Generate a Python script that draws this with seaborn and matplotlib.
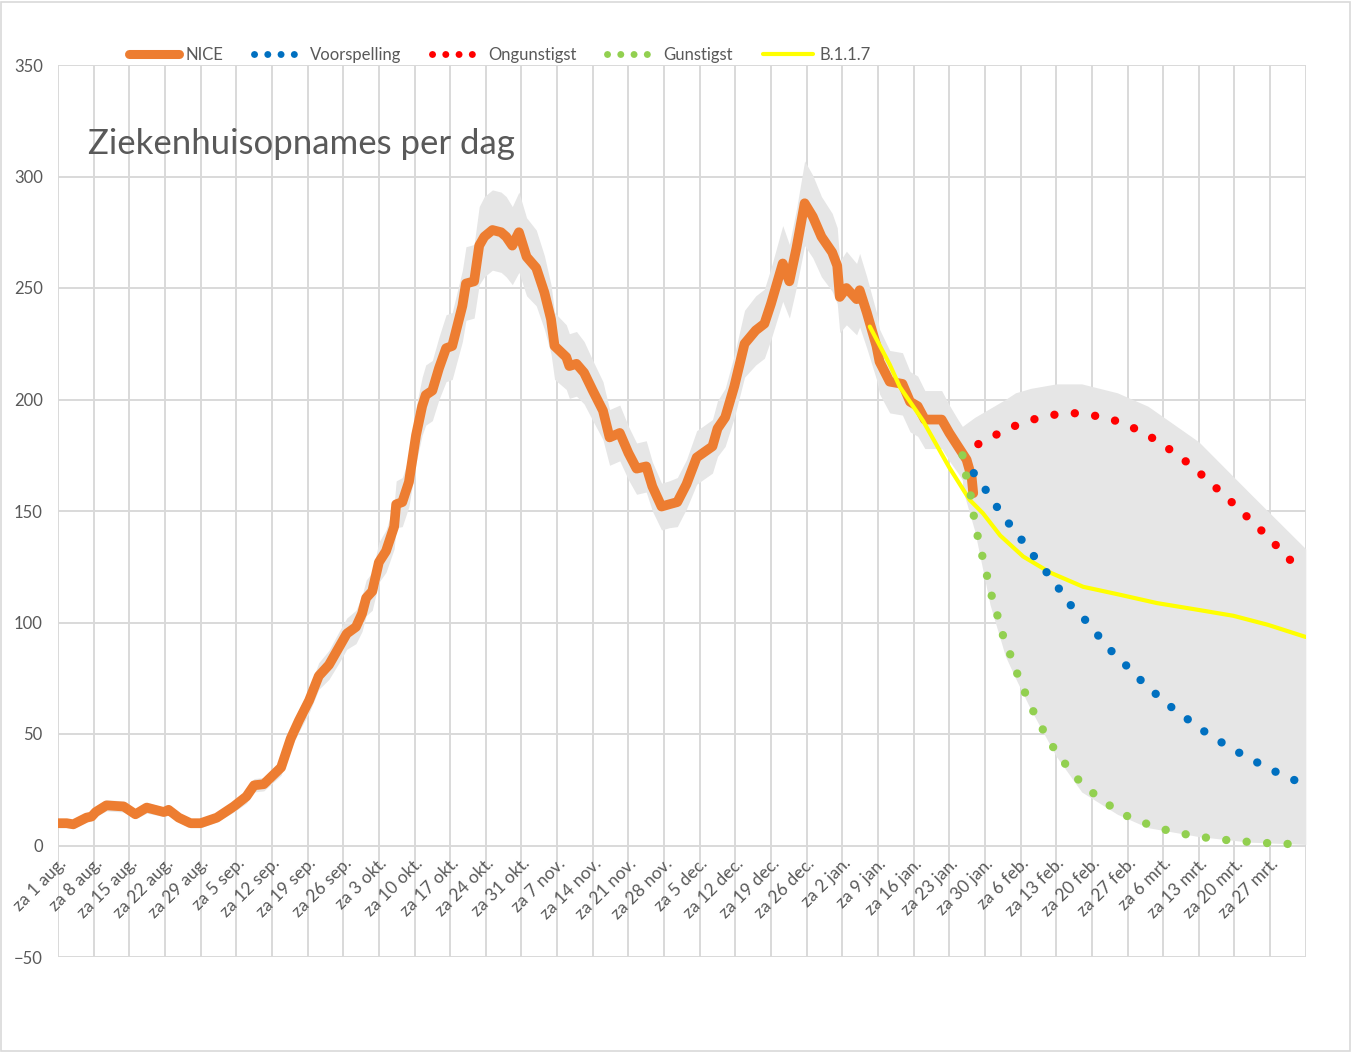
import matplotlib
matplotlib.use("Agg")
import matplotlib.pyplot as plt
from matplotlib.lines import Line2D
from matplotlib.patches import Rectangle
import seaborn as sns

# days counted from za 1 aug. 2020
nice_days = [0, 1.7, 3, 5.6, 6.6, 7.4, 9.5, 12.9, 15.2, 17.4, 20.8, 21.7, 23.7, 26, 28, 31.2, 34.5, 37,
             38.5, 40.4, 43.8, 45.7, 47.3, 49.3, 51.2, 53.2, 55.2, 56.7, 58.5, 59.7, 60.5, 61.7, 63, 64.4,
             66, 66.4, 67.6, 68.9, 70.3, 71.5, 72.2, 73.5, 74.8, 76.2, 77.4, 79.4, 80.1, 81.7, 82.7, 83.7,
             85.3, 87, 88, 89.2, 90.5, 92, 93.9, 95.5, 96.8, 97.5, 99.8, 100.4, 101.8, 103.3, 105, 107,
             108.3, 110.3, 112, 113.6, 115.5, 116.7, 118.5, 120, 121.6, 123.4, 125.4, 128.5, 129.5, 131,
             132.8, 134.8, 137, 138.7, 140, 142.3, 143.6, 145, 146.6, 148.2, 149.9, 152, 153, 153.5, 154.8,
             156.8, 157.4, 158.8, 160.7, 161.3, 163.3, 165.8, 167.3, 168.8, 170.2, 173.5, 175, 176.7, 178.4,
             179.4, 179.7]
nice_vals = [10, 10, 9.5, 12.5, 13, 15, 18, 17.5, 14, 17, 15, 16, 12.5, 10, 10, 12.5, 17.5, 22,
             27, 27.5, 35, 48, 56, 65, 76, 81, 89, 95, 98, 104, 111, 114, 127, 132,
             143, 153, 154, 163, 184, 197, 202, 204, 214, 223, 224, 242, 252, 253, 269, 273,
             276, 275, 273, 269, 275, 264, 259, 248, 236, 224, 219, 215, 216, 212, 204, 195,
             183, 185, 176, 169, 170, 161, 152, 153, 154, 162, 174, 179, 187, 192,
             206, 225, 231, 234, 243, 261, 253, 268, 288, 282, 273, 266, 260, 246, 250,
             245, 249, 239, 224, 217, 208, 207, 199, 197, 191, 191, 185, 179, 173,
             165, 158]
# half width of the grey band around NICE
nice_band = [2, 2, 2, 2, 2, 2, 2.5, 2.5, 2, 2.5, 2, 2.5, 2, 2, 2, 2, 2.5, 3,
             3, 3, 3.5, 4.5, 5, 5.5, 6, 6.5, 7, 7, 7.5, 8, 8, 8.5, 9, 9.5,
             10, 10.5, 11, 11, 12.5, 13, 13.5, 13.5, 14, 15, 15, 16, 16.5, 16.5, 17.5, 18,
             18, 18, 18, 17.5, 18, 17.5, 17, 16.5, 15.5, 15, 14.5, 14.5, 14.5, 14, 13.5, 13,
             12.5, 12.5, 12, 11.5, 11.5, 11, 10.5, 10.5, 11, 11, 12, 12, 12.5, 13,
             14, 15, 15.5, 15.5, 16, 17, 16.5, 17.5, 19, 18.5, 18, 17.5, 17, 16, 16.5,
             16, 16.5, 16, 15, 14.5, 14, 14, 13.5, 13.5, 13, 13, 12.5, 12, 12,
             11.5, 11]

# forecast range (grey)
fc_band_days = [177.6, 180, 183, 186, 188, 191, 196, 201, 208, 214, 224, 234, 245]
fc_band_hi = [188, 192, 196, 200, 203, 205, 207, 207, 203, 197, 181, 158, 133]
fc_band_lo = [160, 141, 108, 85, 75, 61, 40, 24, 14, 8, 4, 1.5, 0.5]

voorspelling_days = [179.8, 182, 184.3, 186.5, 188.9, 191.2, 193.6, 196, 198.3, 201, 203.6, 206, 209,
                     211.7, 214.6, 217.4, 220.5, 223.8, 227, 230.3, 233.7, 237.2, 240.7, 244.3]
voorspelling_vals = [167, 160, 152, 145, 138, 131, 124, 117, 109, 103, 96, 89, 82.5,
                     76, 70, 64, 59, 53, 48.4, 43.5, 39.5, 35, 31.4, 27.8]

ongunstig_days = [180.7, 184, 187.7, 191.4, 195, 199, 203, 207, 210.5, 214, 217.4, 220.5, 223.7,
                  226.6, 229.5, 232.3, 235, 237.8, 240.6, 243.3]
ongunstig_vals = [180, 184, 188, 191, 193, 194, 193, 191, 188, 184, 179, 174, 168,
                  162, 156, 150, 144, 138, 131, 125]

gunstig_days = [177.6, 178.3, 179.2, 179.8, 180.5, 181.4, 182.3, 183.2, 184.3, 185.3, 186.7, 188,
                189.5, 191, 192.8, 194.7, 196.9, 199.3, 202, 205.2, 208.3, 211.9, 215.7, 219.5,
                223.3, 227.2, 231.2, 235, 238.9, 242.8]
gunstig_vals = [175, 166, 157, 148, 139.5, 130.7, 122, 113, 104.5, 95.7, 87.4, 79,
                70.6, 62.4, 54.4, 46.4, 39.2, 32, 25.6, 20.2, 14.8, 11.3, 8.1, 5.8,
                4.3, 2.9, 2.1, 1.4, 0.9, 0.6]

b117_days = [159.4, 163.3, 165.3, 169.8, 175, 179, 181.6, 185, 189.5, 194.8, 201.3, 208, 215.8,
             224.3, 230.8, 237.5, 245]
b117_vals = [232.7, 215.7, 205.6, 190.6, 169.5, 155, 149, 139, 129.6, 122.4, 116, 112.7, 108.7,
             105.5, 103, 99, 93.5]

week_labels = ["za 1 aug.", "za 8 aug.", "za 15 aug.", "za 22 aug.", "za 29 aug.", "za 5 sep.",
               "za 12 sep.", "za 19 sep.", "za 26 sep.", "za 3 okt.", "za 10 okt.", "za 17 okt.",
               "za 24 okt.", "za 31 okt.", "za 7 nov.", "za 14 nov.", "za 21 nov.", "za 28 nov.",
               "za 5 dec.", "za 12 dec.", "za 19 dec.", "za 26 dec.", "za 2 jan.", "za 9 jan.",
               "za 16 jan.", "za 23 jan.", "za 30 jan.", "za 6 feb.", "za 13 feb.", "za 20 feb.",
               "za 27 feb.", "za 6 mrt.", "za 13 mrt.", "za 20 mrt.", "za 27 mrt."]

ORANGE = "#ED7D31"
BLUE = "#0070C0"
RED = "#FF0000"
GREEN = "#92D050"
YELLOW = "#FFFF00"
BAND = "#E6E6E6"
GRID = "#D9D9D9"
TEXT = "#595959"

sns.set_theme(style="white")
plt.rcParams["font.family"] = ["Lato", "DejaVu Sans"]

W, H = 1352, 1052
fig = plt.figure(figsize=(W / 100, H / 100), dpi=100)
ax = fig.add_axes([58 / W, 1 - 957 / H, (1305.8 - 58) / W, (957 - 65) / H])

# grey bands
lo = [v - b for v, b in zip(nice_vals, nice_band)]
hi = [v + b for v, b in zip(nice_vals, nice_band)]
ax.fill_between(nice_days, lo, hi, color=BAND, lw=0, zorder=1)
ax.fill_between(fc_band_days, fc_band_lo, fc_band_hi, color=BAND, lw=0, zorder=1)

sns.lineplot(x=nice_days, y=nice_vals, ax=ax, color=ORANGE, lw=7, sort=False,
             estimator=None, zorder=3)
ax.lines[-1].set_solid_joinstyle("round")
ax.lines[-1].set_solid_capstyle("round")

sns.lineplot(x=b117_days, y=b117_vals, ax=ax, color=YELLOW, lw=3, sort=False,
             estimator=None, zorder=4)
ax.lines[-1].set_solid_capstyle("round")

dot_style = (0, (0.01, 2.45))
for d, v, c in [(ongunstig_days, ongunstig_vals, RED),
                (voorspelling_days, voorspelling_vals, BLUE),
                (gunstig_days, gunstig_vals, GREEN)]:
    sns.lineplot(x=d, y=v, ax=ax, color=c, lw=6, sort=False, estimator=None, zorder=5)
    ln = ax.lines[-1]
    ln.set_linestyle(dot_style)
    ln.set_dash_capstyle("round")

ax.set_xlim(0, 245)
ax.set_ylim(-50, 350)
ax.set_yticks(range(-50, 351, 50))
ax.set_xticks(range(0, 246, 7))
ax.set_xticklabels(week_labels + [""])
ax.grid(True, color=GRID, lw=1.4)
ax.set_axisbelow(True)
for s in ax.spines.values():
    s.set_visible(False)
ax.spines["bottom"].set_position(("data", 0))
ax.tick_params(axis="y", length=0, pad=11, labelsize=12, labelcolor=TEXT)
ax.tick_params(axis="x", length=0, pad=7, labelsize=12.5, labelcolor=TEXT)
for lbl in ax.get_xticklabels():
    lbl.set_rotation(45)
    lbl.set_ha("right")
    lbl.set_va("top")
    lbl.set_rotation_mode("anchor")
ax.set_xlabel("")
ax.set_ylabel("")

fig.text(88 / W, 1 - 144 / H, "Ziekenhuisopnames per dag", fontsize=25, color=TEXT,
         ha="left", va="center")

handles = [
    Line2D([0], [0], color=ORANGE, lw=6.5, solid_capstyle="round"),
    Line2D([0], [0], color=BLUE, lw=5, linestyle=(0, (0.01, 1.9)), dash_capstyle="round"),
    Line2D([0], [0], color=RED, lw=5, linestyle=(0, (0.01, 1.9)), dash_capstyle="round"),
    Line2D([0], [0], color=GREEN, lw=5, linestyle=(0, (0.01, 1.9)), dash_capstyle="round"),
    Line2D([0], [0], color=YELLOW, lw=3, solid_capstyle="round"),
]
labels = ["NICE", "Voorspelling", "Ongunstigst", "Gunstigst", "B.1.1.7"]
fig.legend(handles, labels, loc="center", bbox_to_anchor=(500 / W, 1 - 55 / H), ncol=5,
           frameon=False, fontsize=12, labelcolor=TEXT, handlelength=3.0, handletextpad=0.4,
           columnspacing=1.8)

fig.patches.append(Rectangle((1 / W, 1 / H), (W - 3) / W, (H - 3) / H, transform=fig.transFigure,
                             fill=False, edgecolor=GRID, lw=1.2))

fig.savefig("out.png", dpi=100, facecolor="white")
